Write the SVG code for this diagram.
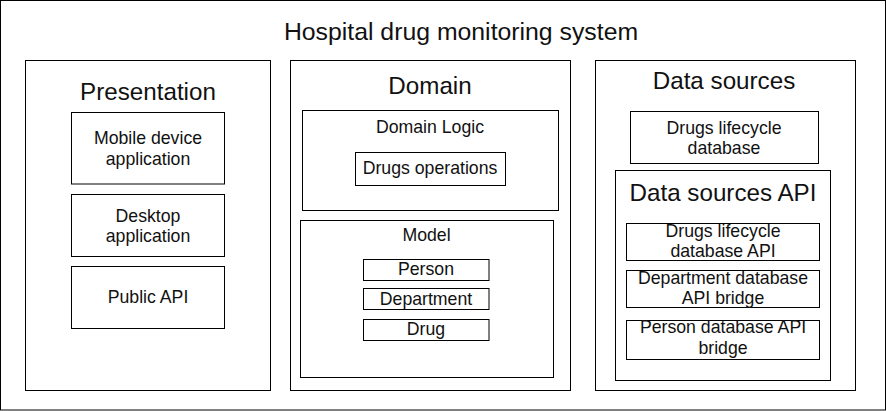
<svg xmlns="http://www.w3.org/2000/svg" width="886" height="411" viewBox="0 0 886 411">
<style>
rect{fill:#fff;stroke:#000;stroke-width:1}
text{font-family:"Liberation Sans",Arial,sans-serif;fill:#111;text-anchor:middle}
.big{font-size:24.2px}
.md{font-size:17.7px}
</style>
<rect x="0.5" y="0.5" width="885" height="409.5"/>
<text class="big" x="461" y="39.5" style="font-size:24.8px">Hospital drug monitoring system</text>

<g id="presentation">
<rect x="25.5" y="60.5" width="245" height="330"/>
<text class="big" x="148" y="100">Presentation</text>
</g>
<g id="mobile">
<rect x="71.5" y="112.5" width="153" height="71.5"/>
<text class="md" x="148" y="144">Mobile device</text>
<text class="md" x="148" y="165">application</text>
</g>
<g id="desktop">
<rect x="71.5" y="194.5" width="153" height="62"/>
<text class="md" x="148" y="221.5">Desktop</text>
<text class="md" x="148" y="242">application</text>
</g>
<g id="publicapi">
<rect x="71.5" y="266.5" width="153" height="62"/>
<text class="md" x="148" y="303">Public API</text>
</g>

<g id="domain">
<rect x="290.5" y="60.5" width="280" height="330"/>
<text class="big" x="430" y="94">Domain</text>
</g>
<g id="domainlogic">
<rect x="302.5" y="110.5" width="256" height="100"/>
<text class="md" x="430" y="133">Domain Logic</text>
</g>
<g id="drugsops">
<rect x="355.5" y="152.5" width="150" height="33"/>
<text class="md" x="430" y="173.5">Drugs operations</text>
</g>
<g id="model">
<rect x="300.5" y="220.5" width="253" height="157"/>
<text class="md" x="426.5" y="241">Model</text>
</g>
<g id="person">
<rect x="363.5" y="259.5" width="125.5" height="21"/>
<text class="md" x="426" y="275">Person</text>
</g>
<g id="department">
<rect x="363.5" y="288.5" width="125.5" height="21"/>
<text class="md" x="426" y="304.5">Department</text>
</g>
<g id="drug">
<rect x="363.5" y="319.5" width="125.5" height="21"/>
<text class="md" x="426" y="335">Drug</text>
</g>

<g id="datasources">
<rect x="595.5" y="60.5" width="260" height="330"/>
<text class="big" x="724" y="88.5">Data sources</text>
</g>
<g id="drugsdb">
<rect x="630.5" y="111.5" width="188" height="52"/>
<text class="md" x="724" y="133.5">Drugs lifecycle</text>
<text class="md" x="724" y="153.5">database</text>
</g>
<g id="dsapi">
<rect x="615.5" y="170.5" width="215" height="210"/>
<text class="big" x="723" y="201">Data sources API</text>
</g>
<g id="drugsdbapi">
<rect x="626.5" y="223.5" width="193" height="37"/>
<text class="md" x="723" y="237">Drugs lifecycle</text>
<text class="md" x="723" y="257">database API</text>
</g>
<g id="deptbridge">
<rect x="626.5" y="270.5" width="193" height="37"/>
<text class="md" x="723" y="284">Department database</text>
<text class="md" x="723" y="304">API bridge</text>
</g>
<g id="personbridge">
<rect x="626.5" y="320.5" width="193" height="39"/>
<text class="md" x="723" y="332.5">Person database API</text>
<text class="md" x="723" y="354">bridge</text>
</g>
<g id="connectors"></g>
</svg>
